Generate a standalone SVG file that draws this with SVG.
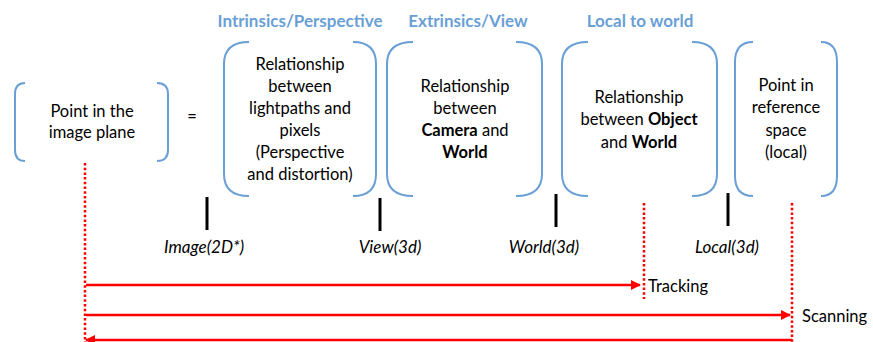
<svg xmlns="http://www.w3.org/2000/svg" width="873" height="342" viewBox="0 0 873 342">
<defs>
<style>
.br{fill:none;stroke:#6A9FD6;stroke-width:2}
.t{font-family:Lato,"Liberation Sans",sans-serif;font-size:16.5px;fill:#000;text-anchor:middle}
.h{font-family:Lato,"Liberation Sans",sans-serif;font-size:17px;font-weight:bold;fill:#6A9FD6;text-anchor:middle}
.lab{font-family:Lato,"Liberation Sans",sans-serif;font-size:17px;font-style:italic;fill:#000;text-anchor:middle}
.s{font-family:Lato,"Liberation Sans",sans-serif;font-size:16.5px;fill:#000}
.b{font-weight:bold}
.tick{stroke:#000;stroke-width:3}
.dot{stroke:#FF0000;stroke-width:2.5;stroke-dasharray:2.5 2.2;fill:none}
.arr{stroke:#FF0000;stroke-width:2.5;fill:none}
</style>
<marker id="ah" viewBox="0 0 10 10" refX="9" refY="5" markerWidth="4" markerHeight="4" orient="auto-start-reverse" markerUnits="strokeWidth">
<path d="M0,0 L10,5 L0,10 z" fill="#FF0000"/>
</marker>
</defs>
<rect width="873" height="342" fill="#fff"/>

<g id="titles">
<text class="h" x="300" y="27">Intrinsics/Perspective</text>
<text class="h" x="468" y="27">Extrinsics/View</text>
<text class="h" x="640" y="27">Local to world</text>
</g>

<g id="node-image-plane">
<path class="br" d="M25,83 Q15,83 15,94 V150 Q15,161 25,161"/>
<path class="br" d="M157,83 Q168,83 168,94 V150 Q168,161 157,161"/>
<text class="t" x="92" y="117">Point in the</text>
<text class="t" x="92" y="138">image plane</text>
</g>

<g id="equals">
<text class="t" x="192" y="122">=</text>
</g>

<g id="node-intrinsics">
<path class="br" d="M249,42 Q224,42 224,64 V174 Q224,196 249,196"/>
<path class="br" d="M353,42 Q376,42 376,64 V174 Q376,196 353,196"/>
<text class="t" x="300" y="70">Relationship</text>
<text class="t" x="300" y="92">between</text>
<text class="t" x="300" y="114">lightpaths and</text>
<text class="t" x="300" y="136">pixels</text>
<text class="t" x="300" y="158">(Perspective</text>
<text class="t" x="300" y="180">and distortion)</text>
</g>

<g id="node-extrinsics">
<path class="br" d="M413,42 Q387,42 387,64 V174 Q387,196 413,196"/>
<path class="br" d="M516,42 Q542,42 542,64 V174 Q542,196 516,196"/>
<text class="t" x="465" y="92">Relationship</text>
<text class="t" x="465" y="114">between</text>
<text class="t" x="465" y="136"><tspan class="b">Camera</tspan> and</text>
<text class="t b" x="465" y="158">World</text>
</g>

<g id="node-local-to-world">
<path class="br" d="M588,42 Q562,42 562,64 V174 Q562,196 588,196"/>
<path class="br" d="M692,42 Q717,42 717,64 V174 Q717,196 692,196"/>
<text class="t" x="639" y="103">Relationship</text>
<text class="t" x="639" y="125">between <tspan class="b">Object</tspan></text>
<text class="t" x="639" y="148">and <tspan class="b">World</tspan></text>
</g>

<g id="node-reference">
<path class="br" d="M753,42 Q735,42 735,62 V176 Q735,196 753,196"/>
<path class="br" d="M821,42 Q837,42 837,62 V176 Q837,196 821,196"/>
<text class="t" x="786" y="91">Point in</text>
<text class="t" x="786" y="113">reference</text>
<text class="t" x="786" y="136">space</text>
<text class="t" x="786" y="158">(local)</text>
</g>

<g id="spaces">
<line class="tick" x1="207" y1="197" x2="207" y2="230"/>
<line class="tick" x1="380" y1="198" x2="380" y2="231"/>
<line class="tick" x1="556" y1="194" x2="556" y2="227"/>
<line class="tick" x1="728" y1="193" x2="728" y2="226"/>
<text class="lab" x="204" y="253">Image(2D*)</text>
<text class="lab" x="390" y="253">View(3d)</text>
<text class="lab" x="544" y="253">World(3d)</text>
<text class="lab" x="727" y="253">Local(3d)</text>
</g>

<g id="connectors">
<line class="dot" x1="85" y1="163" x2="85" y2="342"/>
<line class="dot" x1="644" y1="203" x2="644" y2="299"/>
<line class="dot" x1="792" y1="203" x2="792" y2="342"/>
<line class="arr" x1="86" y1="285" x2="640" y2="285" marker-end="url(#ah)"/>
<line class="arr" x1="86" y1="315" x2="790" y2="315" marker-end="url(#ah)"/>
<line class="arr" x1="792" y1="340" x2="86" y2="340" marker-end="url(#ah)"/>
<text class="s" x="648" y="292">Tracking</text>
<text class="s" x="802" y="322">Scanning</text>
</g>
</svg>
